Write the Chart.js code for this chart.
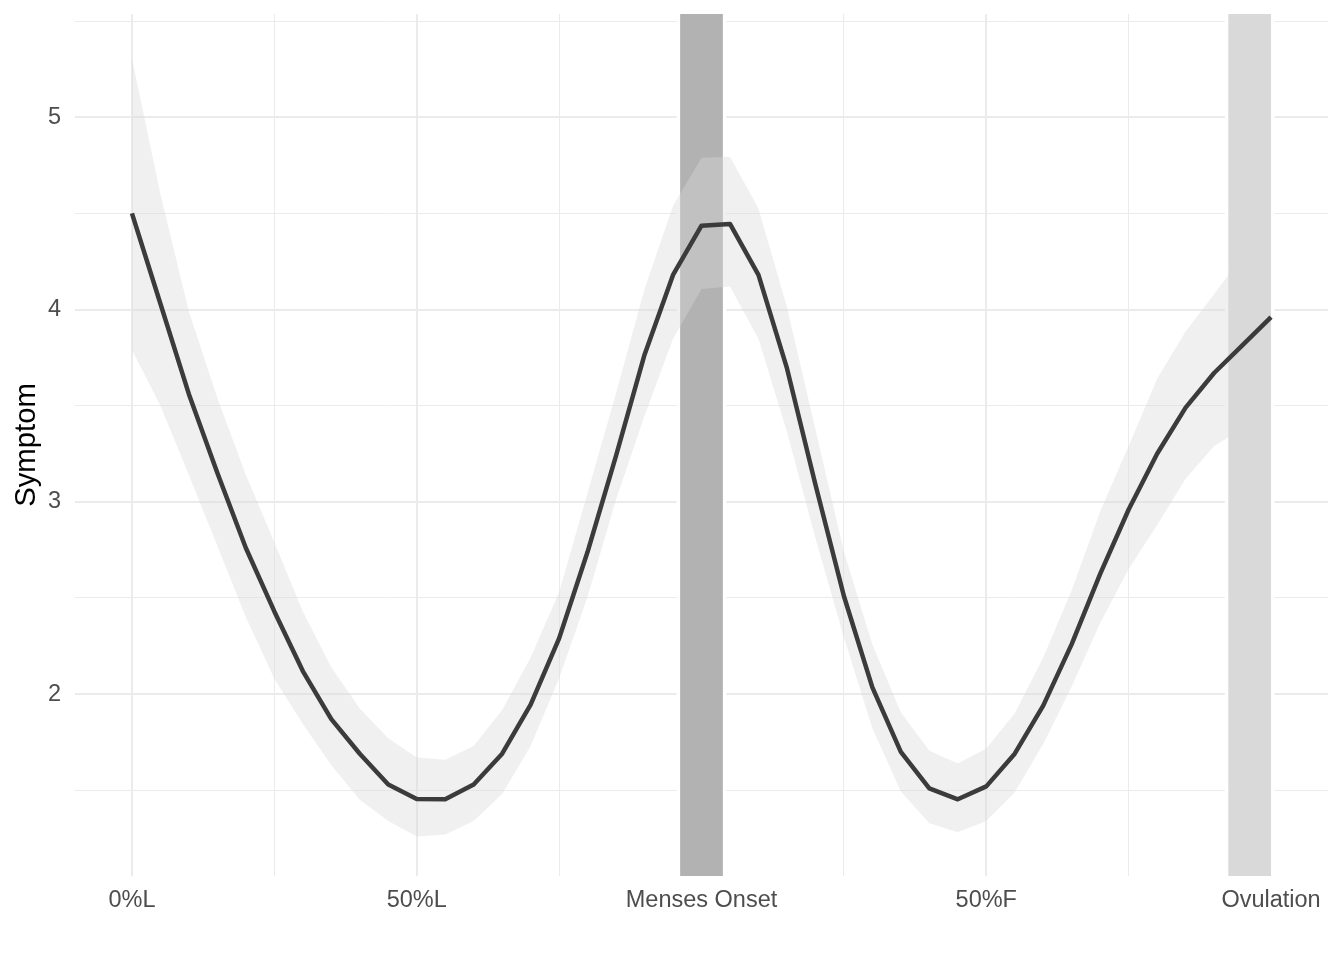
<!DOCTYPE html>
<html>
<head>
<meta charset="utf-8">
<script src="https://cdn.jsdelivr.net/npm/chart.js@4.4.0/dist/chart.umd.min.js"></script>
<style>
  html, body { margin: 0; padding: 0; background: #fff; }
  #wrap { width: 1344px; height: 960px; }
</style>
</head>
<body>
<div id="wrap"><canvas id="myChart" width="1344" height="960"></canvas></div>
<script>
// cycle position: 0 = 0%L, 1 = 50%L, 2 = menses onset, 3 = 50%F, 4 = ovulation
const cyclePos = [0, 0.1, 0.2, 0.3, 0.4, 0.5, 0.6, 0.7, 0.8, 0.9,
    1, 1.1, 1.2, 1.3, 1.4, 1.5, 1.6, 1.7, 1.8, 1.9,
    2, 2.1, 2.2, 2.3, 2.4, 2.5, 2.6, 2.7, 2.8, 2.9,
    3, 3.1, 3.2, 3.3, 3.4, 3.5, 3.6, 3.7, 3.8, 3.9, 4];

const symptom = [4.50, 4.03, 3.56, 3.15, 2.76, 2.43, 2.12, 1.87, 1.69, 1.53,
    1.455, 1.453, 1.53, 1.69, 1.945, 2.29, 2.74, 3.24, 3.765, 4.18,
    4.436, 4.445, 4.18, 3.695, 3.09, 2.51, 2.035, 1.70, 1.51, 1.453,
    1.52, 1.69, 1.94, 2.26, 2.625, 2.96, 3.25, 3.49, 3.67, 3.815, 3.96];

const upper = [5.305, 4.60, 3.99, 3.54, 3.14, 2.79, 2.43, 2.14, 1.925, 1.77,
    1.67, 1.658, 1.73, 1.917, 2.19, 2.53, 3.047, 3.565, 4.107, 4.54,
    4.79, 4.794, 4.526, 4.013, 3.377, 2.741, 2.258, 1.905, 1.705, 1.639,
    1.717, 1.90, 2.19, 2.54, 2.95, 3.29, 3.64, 3.886, 4.08, 4.28, 4.586];

const lower = [3.79, 3.50, 3.14, 2.77, 2.40, 2.08, 1.845, 1.63, 1.45, 1.34,
    1.26, 1.27, 1.34, 1.481, 1.73, 2.082, 2.506, 3.012, 3.447, 3.848,
    4.107, 4.12, 3.848, 3.365, 2.812, 2.294, 1.823, 1.493, 1.328, 1.281,
    1.34, 1.49, 1.74, 2.04, 2.37, 2.65, 2.88, 3.12, 3.29, 3.38, 3.41];

const tickPositions = [0, 1, 2, 3, 4];
const tickLabels = ['0%L', '50%L', 'Menses Onset', '50%F', 'Ovulation'];
const minorPositions = [0.5, 1.5, 2.5, 3.5];
const yTicks = [2, 3, 4, 5];
const yMinor = [1.5, 2.5, 3.5, 4.5, 5.5];

// shaded phases
const shadeFrom = [1.925, 3.85];
const shadeTo = [2.075, 4.0];
const shadeColor = ['#b2b2b2', '#d9d9d9'];

const toPoints = arr => arr.map((v, i) => ({ x: cyclePos[i], y: v }));

const shading = {
    id: 'shading',
    beforeDatasetsDraw(chart) {
        const { ctx, chartArea, scales } = chart;
        const h = chartArea.bottom - chartArea.top;
        ctx.save();
        shadeFrom.forEach((from, i) => {
            const x0 = scales.x.getPixelForValue(from);
            const x1 = scales.x.getPixelForValue(shadeTo[i]);
            ctx.fillStyle = '#ffffff';
            ctx.fillRect(x0 - 3.5, chartArea.top, x1 - x0 + 7, h);
            ctx.fillStyle = shadeColor[i];
            ctx.fillRect(x0, chartArea.top, x1 - x0, h);
        });
        ctx.restore();
    }
};

const gridWidth = c => (c.tick && Number.isInteger(c.tick.value)) ? 2 : 1;

const ctx = document.getElementById('myChart');

new Chart(ctx, {
    type: 'line',
    data: {
        datasets: [{
            data: toPoints(symptom),
            borderColor: '#3b3b3b',
            borderWidth: 4.5,
            borderJoinStyle: 'round',
            pointRadius: 0,
            fill: false
        }, {
            data: toPoints(upper),
            borderWidth: 0,
            pointRadius: 0,
            backgroundColor: 'rgba(217, 217, 217, 0.39)',
            fill: '+1'
        }, {
            data: toPoints(lower),
            borderWidth: 0,
            pointRadius: 0,
            fill: false
        }]
    },
    options: {
        responsive: false,
        maintainAspectRatio: false,
        animation: false,
        layout: {
            padding: { top: 14, right: 16, left: 0, bottom: 0 }
        },
        plugins: {
            legend: { display: false },
            tooltip: { enabled: false }
        },
        elements: {
            line: { tension: 0 }
        },
        scales: {
            x: {
                type: 'linear',
                min: -0.2,
                max: 4.2,
                afterBuildTicks: scale => {
                    scale.ticks = tickPositions.concat(minorPositions)
                        .sort((a, b) => a - b).map(v => ({ value: v }));
                },
                afterFit: scale => {
                    scale.height = 84;
                    scale.paddingLeft = 0;
                    scale.paddingRight = 0;
                },
                grid: { color: '#ebebeb', lineWidth: gridWidth, drawTicks: false },
                border: { display: false },
                ticks: {
                    autoSkip: false,
                    maxRotation: 0,
                    padding: 10,
                    color: '#4d4d4d',
                    font: { family: 'Liberation Sans', size: 23.5 },
                    callback: v => {
                        const k = tickPositions.indexOf(v);
                        return k >= 0 ? tickLabels[k] : '';
                    }
                }
            },
            y: {
                min: 1.054,
                max: 5.537,
                afterBuildTicks: scale => {
                    scale.ticks = yTicks.concat(yMinor)
                        .sort((a, b) => a - b).map(v => ({ value: v }));
                },
                afterFit: scale => {
                    scale.width = 75;
                    scale.paddingTop = 0;
                    scale.paddingBottom = 0;
                },
                grid: { color: '#ebebeb', lineWidth: gridWidth, drawTicks: false },
                border: { display: false },
                title: {
                    display: true,
                    text: 'Symptom',
                    color: '#000000',
                    font: { family: 'Liberation Sans', size: 29.3 },
                    padding: { top: 9, bottom: 0 }
                },
                ticks: {
                    autoSkip: false,
                    padding: 14,
                    color: '#4d4d4d',
                    font: { family: 'Liberation Sans', size: 23.5 },
                    callback: v => yTicks.includes(v) ? String(v) : ''
                }
            }
        }
    },
    plugins: [shading]
});
</script>
</body>
</html>
